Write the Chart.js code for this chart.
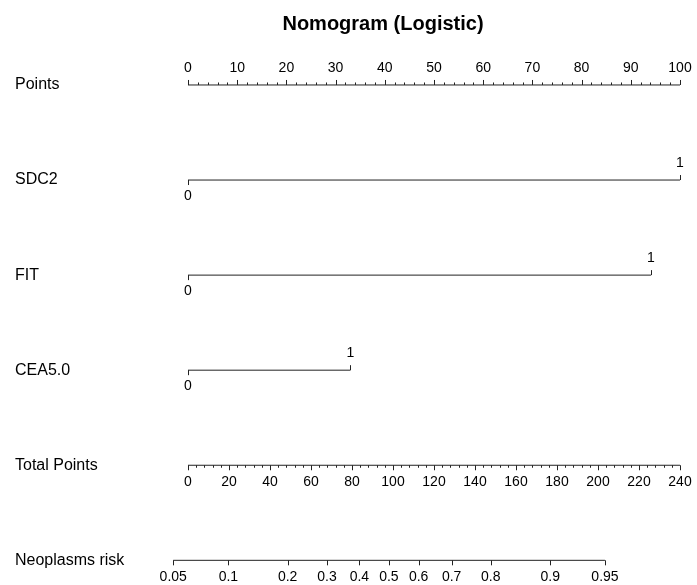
<!DOCTYPE html>
<html>
<head>
<meta charset="utf-8">
<script src="https://cdn.jsdelivr.net/npm/chart.js@4"></script>
<style>
  body { margin: 0; background: #fff; }
</style>
</head>
<body>
<canvas id="nomo" width="697" height="585"></canvas>
<script>
// rows of the nomogram, top to bottom
const rowNames = ['Points', 'SDC2', 'FIT', 'CEA5.0', 'Total Points', 'Neoplasms risk'];

// points scale
const pointTicks = [0, 10, 20, 30, 40, 50, 60, 70, 80, 90, 100];

// predictor levels and the points they give
const levelLabels = ['0', '1'];
const sdc2Points = [0, 100];
const fitPoints = [0, 94.1];
const ceaPoints = [0, 33.0];

// total points scale
const totalTicks = [0, 20, 40, 60, 80, 100, 120, 140, 160, 180, 200, 220, 240];
const totalMax = 240;

// risk labels and the total points where they sit
const riskLabels = ['0.05', '0.1', '0.2', '0.3', '0.4', '0.5', '0.6', '0.7', '0.8', '0.9', '0.95'];
const riskTotal = [-7.2, 19.7, 48.6, 67.8, 83.6, 98.0, 112.5, 128.6, 147.7, 176.7, 203.4];

const FONT = '"Liberation Sans", Arial, sans-serif';
const LINE = '#222';

// total points -> points scale
const tp = v => v * 100 / totalMax;

const rowLine = (row, xs) => ({
    data: [{ x: Math.min(...xs), y: row }, { x: Math.max(...xs), y: row }],
    showLine: true,
    borderColor: LINE,
    borderWidth: 1,
    pointRadius: 0,
    clip: false
});

const nomoAxes = {
    id: 'nomoAxes',
    afterDraw(chart) {
        const { ctx, scales: { x, y } } = chart;
        ctx.save();
        ctx.strokeStyle = LINE;
        ctx.lineWidth = 1;
        ctx.fillStyle = '#000';
        ctx.font = '14px ' + FONT;
        ctx.textAlign = 'center';
        ctx.textBaseline = 'middle';

        const tick = (px, py, len) => {
            ctx.beginPath();
            ctx.moveTo(Math.round(px) + 0.5, py);
            ctx.lineTo(Math.round(px) + 0.5, py + len);
            ctx.stroke();
        };

        // Points row: ticks and labels above
        let py = y.getPixelForValue(0);
        for (let v = 0; v <= 100; v += 2) {
            tick(x.getPixelForValue(v), py, v % 10 === 0 ? -5 : -2.5);
        }
        pointTicks.forEach(v => ctx.fillText(String(v), x.getPixelForValue(v), py - 17));

        // predictor rows: 0 below, 1 above
        [sdc2Points, fitPoints, ceaPoints].forEach((pts, i) => {
            const ry = y.getPixelForValue(i + 1);
            pts.forEach((p, j) => {
                const px = x.getPixelForValue(p);
                const up = j % 2 === 1;
                tick(px, ry, up ? -5 : 5);
                ctx.fillText(levelLabels[j], px, ry + (up ? -17 : 16));
            });
        });

        // Total Points row: ticks and labels below
        py = y.getPixelForValue(4);
        for (let v = 0; v <= totalMax; v += 4) {
            tick(x.getPixelForValue(tp(v)), py, v % 20 === 0 ? 5 : 2.5);
        }
        totalTicks.forEach(v => ctx.fillText(String(v), x.getPixelForValue(tp(v)), py + 17));

        // risk row
        py = y.getPixelForValue(5);
        riskTotal.forEach((v, i) => {
            const px = x.getPixelForValue(tp(v));
            tick(px, py, 5);
            ctx.fillText(riskLabels[i], px, py + 17);
        });
        ctx.restore();
    }
};

new Chart(document.getElementById('nomo'), {
    type: 'scatter',
    data: {
        datasets: [
            rowLine(0, [0, 100]),
            rowLine(1, sdc2Points),
            rowLine(2, fitPoints),
            rowLine(3, ceaPoints),
            rowLine(4, [0, tp(totalMax)]),
            rowLine(5, riskTotal.map(tp))
        ]
    },
    options: {
        responsive: false,
        animation: false,
        devicePixelRatio: 1,
        layout: { padding: { left: 15, right: 91, top: 0, bottom: 1 } },
        plugins: {
            legend: { display: false },
            tooltip: { enabled: false },
            title: {
                display: true,
                fullSize: false,
                text: 'Nomogram (Logistic)',
                color: '#000',
                font: { family: FONT, size: 20, weight: 'bold' },
                padding: { top: 12, bottom: 4 }
            }
        },
        scales: {
            x: {
                type: 'linear',
                display: false,
                min: -5.69,
                max: 84.96
            },
            y: {
                type: 'linear',
                reverse: true,
                min: -0.473,
                max: 5.127,
                grid: { display: false },
                border: { display: false },
                afterBuildTicks: axis => { axis.ticks = rowNames.map((_, i) => ({ value: i })); },
                afterFit: axis => { axis.width = 145; },
                ticks: {
                    crossAlign: 'far',
                    color: '#000',
                    font: { family: FONT, size: 16 },
                    callback: v => rowNames[v]
                }
            }
        }
    },
    plugins: [nomoAxes]
});
</script>
</body>
</html>
